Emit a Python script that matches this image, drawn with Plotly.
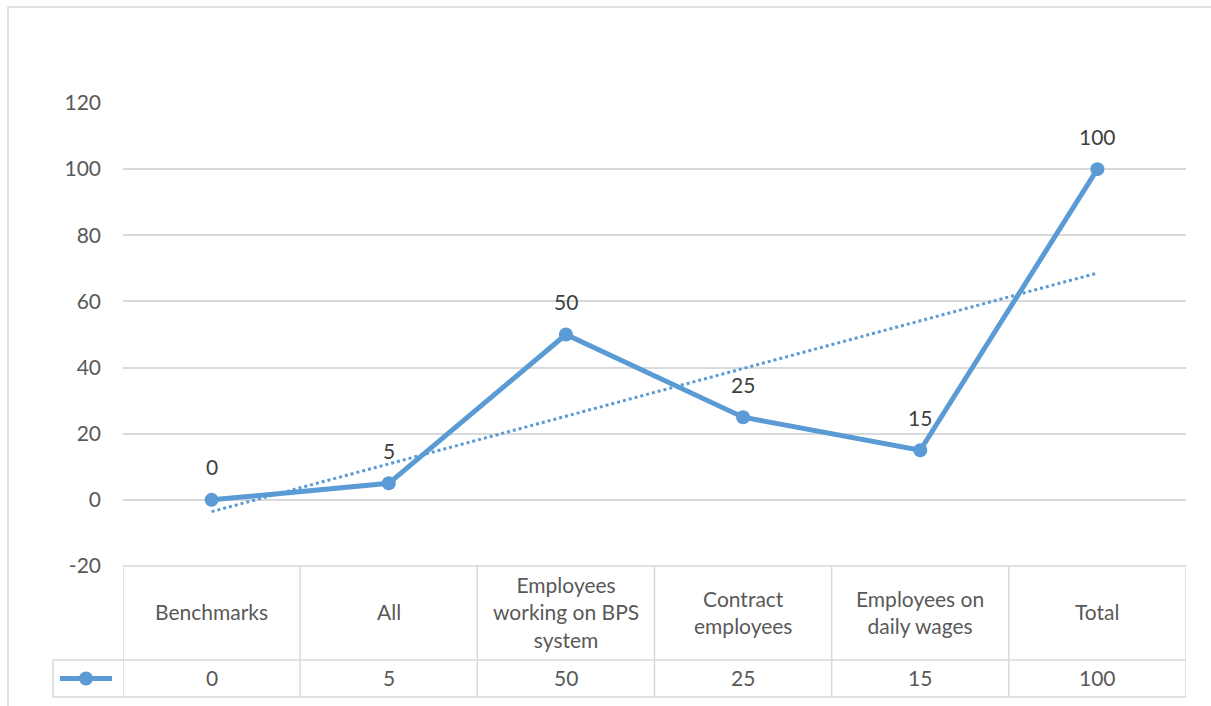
import numpy as np
import plotly.graph_objects as go

categories = ["Benchmarks", "All", "Employees<br>working on BPS<br>system",
              "Contract<br>employees", "Employees on<br>daily wages", "Total"]
values = [0, 5, 50, 25, 15, 100]
y_ticks = [-20, 0, 20, 40, 60, 80, 100, 120]
y_tick_text = ["-20", "0", "20", "40", "60", "80", "100", "120"]

W, H = 1211, 706
L, R, T, B = 123, 1186, 103, 566
BLUE = "#5B9BD5"
GRID = "#D9D9D9"
TXT = "#595959"
FONT = "Lato"
FS = 21

def px(x):
    return (x - L) / (R - L)

def py(y):
    return (B - y) / (B - T)

xs = np.arange(1, len(values) + 1)
slope, intercept = np.polyfit(xs, values, 1)
trend = slope * xs + intercept

fig = go.Figure()
fig.add_trace(go.Scatter(x=xs, y=trend, mode="lines",
                         line=dict(color=BLUE, width=3, dash="dot"),
                         showlegend=False, hoverinfo="skip"))
fig.add_trace(go.Scatter(x=xs, y=values, mode="lines+markers",
                         line=dict(color=BLUE, width=5),
                         marker=dict(size=14, color=BLUE),
                         showlegend=False))

# data labels
for x, v in zip(xs, values):
    fig.add_annotation(x=x, y=v, text=str(v), showarrow=False, yshift=33,
                       font=dict(family=FONT, size=FS, color="#404040"))

shapes = []
# outer chart border
shapes.append(dict(type="rect", xref="paper", yref="paper",
                   x0=px(8), x1=px(1216), y0=py(7), y1=py(712),
                   line=dict(color=GRID, width=1.5)))
# table horizontal lines
shapes.append(dict(type="line", xref="x", yref="paper", x0=0.5, x1=6.5,
                   y0=py(566), y1=py(566), line=dict(color=GRID, width=1.5)))
for yy in (660, 697):
    shapes.append(dict(type="line", xref="paper", yref="paper", x0=px(53), x1=1,
                       y0=py(yy), y1=py(yy), line=dict(color=GRID, width=1.5)))
# table vertical lines
for k in range(len(values) + 1):
    shapes.append(dict(type="line", xref="x", yref="paper", x0=0.5 + k, x1=0.5 + k,
                       y0=py(566), y1=py(697), line=dict(color=GRID, width=1.5)))
shapes.append(dict(type="line", xref="paper", yref="paper", x0=px(53), x1=px(53),
                   y0=py(660), y1=py(697), line=dict(color=GRID, width=1.5)))
# legend key
shapes.append(dict(type="line", xref="paper", yref="paper", x0=px(60), x1=px(112),
                   y0=py(678.5), y1=py(678.5), line=dict(color=BLUE, width=5)))
shapes.append(dict(type="circle", xref="paper", yref="paper",
                   x0=px(79), x1=px(93), y0=py(685.5), y1=py(671.5),
                   fillcolor=BLUE, line=dict(color=BLUE, width=0)))
fig.update_layout(shapes=shapes)

# table text
for x, cat, v in zip(xs, categories, values):
    fig.add_annotation(x=x, xref="x", y=py(611.5), yref="paper", text=cat,
                       showarrow=False, yanchor="middle",
                       font=dict(family=FONT, size=FS, color=TXT))
    fig.add_annotation(x=x, xref="x", y=py(677), yref="paper", text=str(v),
                       showarrow=False, yanchor="middle",
                       font=dict(family=FONT, size=FS, color=TXT))

fig.update_layout(
    width=W, height=H,
    margin=dict(l=L, r=W - R, t=T, b=H - B),
    paper_bgcolor="white", plot_bgcolor="white",
    font=dict(family=FONT, size=FS, color=TXT),
    xaxis=dict(range=[0.5, 6.5], showgrid=False, zeroline=False,
               showticklabels=False, ticks="", showline=False),
    yaxis=dict(range=[-20, 120], tickvals=y_ticks, ticktext=y_tick_text,
               showgrid=True, gridcolor=GRID, gridwidth=1.5, zeroline=False,
               showline=False, ticks="", ticklabelstandoff=21,
               tickfont=dict(family=FONT, size=FS, color=TXT)),
    showlegend=False,
)

fig.write_html("out.html")
